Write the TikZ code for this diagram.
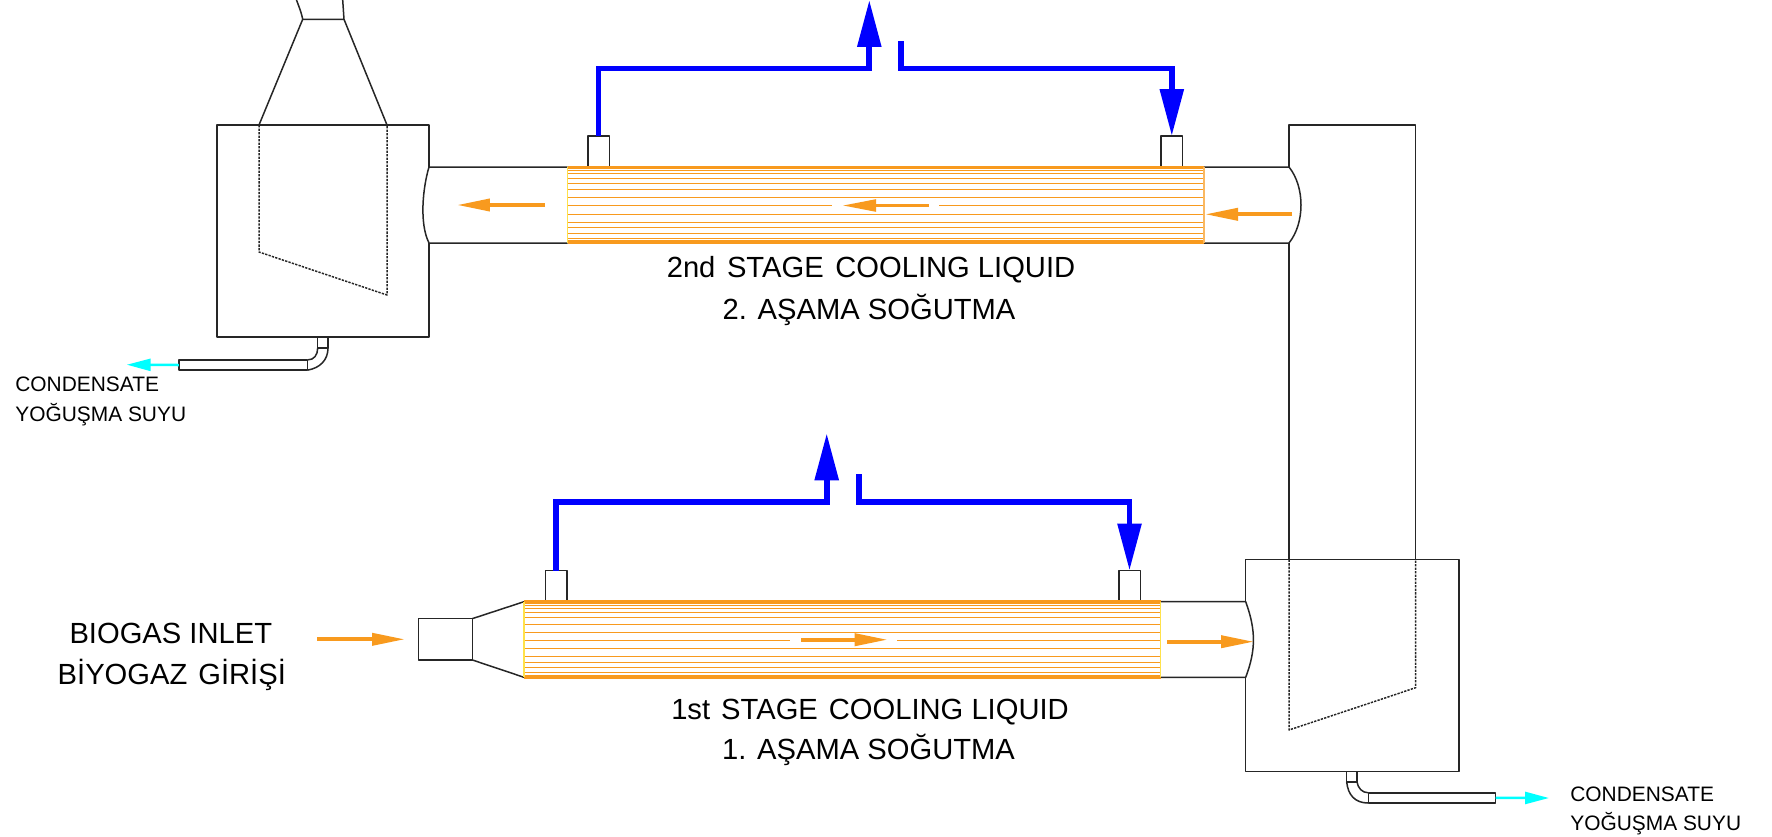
\documentclass[tikz,border=0pt]{standalone}
\usepackage{fontspec}
\setmainfont{Liberation Sans}
\usepackage{xcolor}
\usetikzlibrary{positioning}
\usetikzlibrary{arrows.meta}
\definecolor{gasorange}{HTML}{F89A1E}
\definecolor{edgeyellow}{HTML}{FFE24A}
\definecolor{condcyan}{HTML}{00FFFF}
\tikzset{
  wall/.style={draw=black!85, line width=0.03cm, line join=round},
  hidden wall/.style={wall, dash pattern=on 1.3pt off 0.7pt},
  stub/.style={wall, minimum width=0.43cm, minimum height=0.62cm, inner sep=0pt, outer sep=0pt},
  drain pipe/.style={wall, minimum height=0.205cm, inner sep=0pt, outer sep=0pt},
  tube line/.style={draw=gasorange, line width=0.02cm},
  shell line/.style={draw=gasorange, line width=0.05cm},
  tube gap/.style={fill=white, minimum height=0.08cm, inner sep=0pt},
  gas arrow/.style={draw=gasorange, line width=0.075cm, -{Triangle[length=0.66cm,width=0.24cm,fill=gasorange]}},
  thin gas arrow/.style={gas arrow, line width=0.045cm},
  coolant line/.style={draw=blue, line width=0.115cm},
  coolant arrow/.style={coolant line, -{Triangle[length=0.94cm,width=0.46cm,fill=blue]}},
  condensate arrow/.style={draw=condcyan, line width=0.05cm, -{Triangle[length=0.48cm,width=0.24cm,fill=condcyan]}},
  big label/.style={font=\fontsize{16.6}{20}\selectfont, inner sep=0pt},
  small label/.style={font=\fontsize{11.9}{14}\selectfont, inner sep=0pt},
}

\begin{document}
\begin{tikzpicture}[x=0.02cm, y=-0.02cm]
  \useasboundingbox (0,0) rectangle (1772,836);

  % Tanks and stack
  \draw[wall] (429,167) -- (429,125) -- (217,125) -- (217,337) -- (429,337) -- (429,243);
  \draw[wall] (296.5,0) .. controls (299,7) and (301,11) .. (302.7,19.3) -- (344,19.3) -- (342.7,0);
  \draw[wall] (302.7,19.3) -- (259,125);
  \draw[wall] (344,19.3) -- (387,125);
  \draw[hidden wall] (259,125) -- (259,252) -- (387,295) -- (387,125);

  \draw[wall] (1245.7,601.7) -- (1245.7,559.7) -- (1459,559.7) -- (1459,771.7) -- (1245.7,771.7) -- (1245.7,677.3);
  \draw[wall] (1289,167) -- (1289,125) -- (1415.7,125) -- (1415.7,559.7);
  \draw[wall] (1289,243) -- (1289,559.7);
  \draw[hidden wall] (1289,559.7) -- (1289,730) -- (1415.7,687.7) -- (1415.7,559.7);

  % Gas ducts
  \draw[wall] (567.7,167) -- (429,167) .. controls (423,187) and (419,223) .. (429,243) -- (567.7,243);
  \draw[wall] (1204,167) -- (1289,167) .. controls (1305,187) and (1305,223) .. (1289,243) -- (1204,243);
  \draw[wall] (1160.8,601.7) -- (1245.7,601.7) .. controls (1256,630) and (1256,650) .. (1245.7,677.3) -- (1160.8,677.3);

  % Inlet reducer
  \node[wall, minimum width=1.08cm, minimum height=0.826cm, inner sep=0pt, outer sep=0pt] (reducer) at (445.3,639.3) {};
  \draw[wall] (reducer.north east) -- (524,601.7);
  \draw[wall] (reducer.south east) -- (524,677.3);

  % Coolant stubs
  \node[stub] (stub_2l) at (598.5,151.5) {};
  \node[stub] (stub_2r) at (1171.8,151.5) {};
  \node[stub] (stub_1l) at (556,586) {};
  \node[stub] (stub_1r) at (1129.5,586) {};

  % Tube bundles
  \foreach \xa/\ya in {567.7/167, 524/601.7} {
    \foreach \dy in {0,1.5,3.5,6.7,11,16,22.7,30.7,38.5,47,55,60.5,66,71,73.7,75.8} {
      \draw[tube line] (\xa,\ya+\dy) -- (\xa+636.6,\ya+\dy);
    }
    \draw[shell line] (\xa,\ya) -- (\xa+636.6,\ya);
    \draw[shell line] (\xa,\ya+75.6) -- (\xa+636.6,\ya+75.6);
  }
  \draw[draw=edgeyellow, line width=0.025cm] (567.7,167) -- (567.7,243);
  \draw[draw=gasorange!70, line width=0.035cm] (1204.3,167) -- (1204.3,243);
  \draw[draw=edgeyellow, line width=0.025cm] (524,601.7) -- (524,677.3);
  \draw[draw=edgeyellow, line width=0.025cm] (1160.6,601.7) -- (1160.6,677.3);

  \node[tube gap, minimum width=2.14cm] (gap_2) at (885.5,205.5) {};
  \node[tube gap, minimum width=2.14cm] (gap_1) at (843.7,639.7) {};

  % Gas flow
  \coordinate (gas_in) at (317.3,639.3);
  \coordinate (gas_in_end) at (405,639.3);
  \coordinate (gas_1a) at (801,639.7);
  \coordinate (gas_1b) at (887.7,639.7);
  \coordinate (gas_1c) at (1167,641.7);
  \coordinate (gas_1d) at (1254,641.7);
  \coordinate (gas_2a) at (1292,214.3);
  \coordinate (gas_2b) at (1205,214.3);
  \coordinate (gas_2c) at (928.7,205.5);
  \coordinate (gas_2d) at (843,205.5);
  \coordinate (gas_2e) at (545,205);
  \coordinate (gas_2f) at (457,205);

  \draw[gas arrow] (gas_in) -- (gas_in_end);
  \draw[gas arrow] (gas_1a) -- (gas_1b);
  \draw[gas arrow] (gas_1c) -- (gas_1d);
  \draw[gas arrow] (gas_2a) -- (gas_2b);
  \draw[thin gas arrow] (gas_2c) -- (gas_2d);
  \draw[gas arrow] (gas_2e) -- (gas_2f);

  % Coolant lines
  \coordinate (bend_2a) at (869.3,68.5);
  \coordinate (out_2) at (869.3,0);
  \coordinate (return_2) at (901.3,41);
  \coordinate (bend_2b) at (901.3,68.5);
  \coordinate (bend_1a) at (826.7,502.3);
  \coordinate (out_1) at (826.7,433.3);
  \coordinate (return_1) at (859,474);
  \coordinate (bend_1b) at (859,502.3);

  \draw[coolant arrow] (stub_2l.north) |- (bend_2a) -- (out_2);
  \draw[coolant arrow] (return_2) -- (bend_2b) -| (stub_2r.north);
  \draw[coolant arrow] (stub_1l.north) |- (bend_1a) -- (out_1);
  \draw[coolant arrow] (return_1) -- (bend_1b) -| (stub_1r.north);

  % Condensate drains
  \node[drain pipe, minimum width=2.574cm] (drain_2) at (243.3,365) {};
  \node[drain pipe, minimum width=2.548cm] (drain_1) at (1432,797.9) {};
  \draw[wall] (317.7,337) -- (317.7,348) -- (328,348) -- (328,337);
  \draw[wall] (328,348) .. controls (328,360) and (320,368) .. (drain_2.south east);
  \draw[wall] (317.7,348) .. controls (317.7,355) and (314,360) .. (drain_2.north east);
  \draw[wall] (1346.7,771.7) -- (1346.7,782) -- (1357,782) -- (1357,771.7);
  \draw[wall] (1346.7,782) .. controls (1348,795) and (1355,803) .. (drain_1.south west);
  \draw[wall] (1357,782) .. controls (1358,788) and (1362,792.7) .. (drain_1.north west);

  \coordinate (cond_2) at (126.7,364.7);
  \coordinate (cond_1) at (1549,798);
  \draw[condensate arrow] (drain_2.west) -- (cond_2);
  \draw[condensate arrow] (drain_1.east) -- (cond_1);

  % Labels
  \node[big label, anchor=base] (stage_2en) at (871,277.3) {2nd\hspace{0.12em} STAGE\hspace{0.12em} COOLING LIQUID};
  \node[big label, below=0.834cm of stage_2en.base, anchor=base, xshift=-0.04cm] (stage_2tr) {2. AŞAMA SOĞUTMA};
  \node[big label, anchor=base] (stage_1en) at (870,719) {1st\hspace{0.1em} STAGE\hspace{0.1em} COOLING LIQUID};
  \node[big label, below=0.8cm of stage_1en.base, anchor=base, xshift=-0.03cm] (stage_1tr) {1. AŞAMA SOĞUTMA};
  \node[big label, anchor=base] (inlet_en) at (170.8,643.3) {BIOGAS INLET};
  \node[big label, below=0.82cm of inlet_en.base, anchor=base, xshift=0.02cm] (inlet_tr) {BİYOGAZ\hspace{0.1em} GİRİŞİ};
  \node[small label, anchor=base west] (cond_2en) at (15,391.7) {CONDENSATE};
  \node[small label, below=0.586cm of cond_2en.base west, anchor=base west] (cond_2tr) {YOĞUŞMA SUYU};
  \node[small label, anchor=base west] (cond_1en) at (1570,801) {CONDENSATE};
  \node[small label, below=0.58cm of cond_1en.base west, anchor=base west] (cond_1tr) {YOĞUŞMA SUYU};

\end{tikzpicture}
\end{document}
